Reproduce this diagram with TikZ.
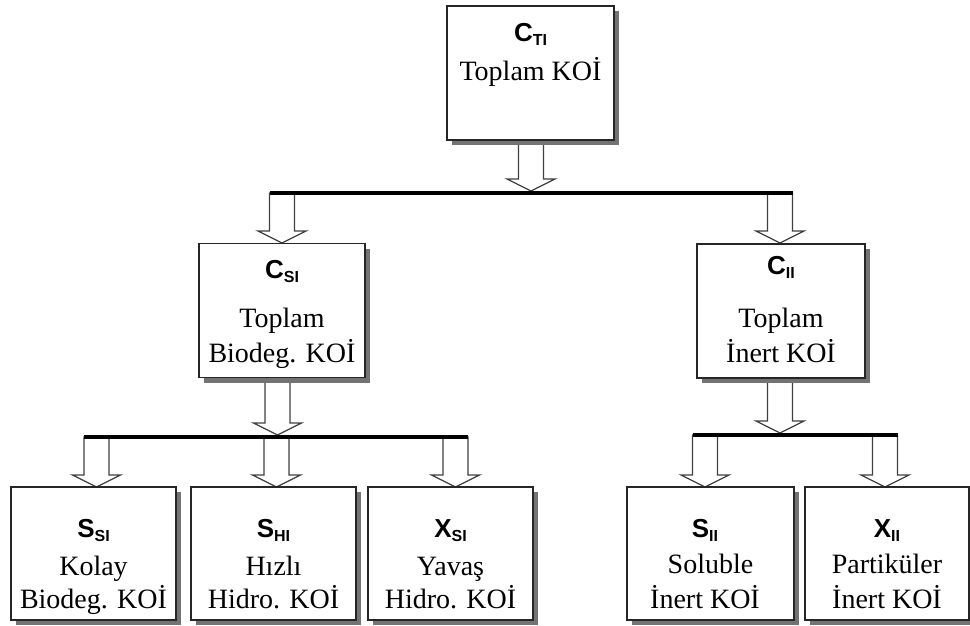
\documentclass[tikz,border=0pt]{standalone}
\usepackage{fontspec}
\setmainfont{Liberation Serif}
\newfontfamily\arialfont{Liberation Sans}
\usetikzlibrary{calc,shadows,backgrounds}
\newcommand{\clbl}[2]{{\arialfont\bfseries\fontsize{26}{26}\selectfont #1\raisebox{-4pt}{\fontsize{16}{16}\selectfont #2}}}
\newcommand{\barrow}[2]{%
  \draw[blockarr] let \p1=(#1), \p2=(#2) in
    (\x2-12.5pt,\y1) -- (\x2-12.5pt,\y2+12pt) -- (\x2-24pt,\y2+12pt) -- (\x2,\y2)
    -- (\x2+24pt,\y2+12pt) -- (\x2+12.5pt,\y2+12pt) -- (\x2+12.5pt,\y1) -- cycle;}
\begin{document}
\begin{tikzpicture}[x=1pt,y=-1pt,
  box/.style={draw=black!85, line width=1.6pt, fill=white, inner sep=0pt,
    minimum width=166pt, minimum height=134pt,
    drop shadow={shadow xshift=5pt, shadow yshift=-5pt, fill=black!55, opacity=1}},
  txt/.style={anchor=base, inner sep=0pt, font=\fontsize{28}{28}\selectfont},
  sym/.style={anchor=base, inner sep=0pt},
  blockarr/.style={draw=black!75, line width=1.3pt, fill=white, line join=miter},
  barline/.style={line width=4pt, black}]
\useasboundingbox (0,0) rectangle (970,626);

% boxes
\node[box, minimum width=167pt] (cti) at (530.5,73) {};
\node[box] (csi) at (282,310.5) {};
\node[box, minimum width=168pt] (cii) at (781,311) {};
\node[box, minimum width=165pt, minimum height=133pt] (ssi) at (93.5,553.5) {};
\node[box, minimum width=165pt, minimum height=133pt] (shi) at (273.5,553.5) {};
\node[box, minimum width=165pt, minimum height=133pt] (xsi) at (450.5,553.5) {};
\node[box, minimum width=167pt, minimum height=133pt] (sii) at (710.5,553.5) {};
\node[box, minimum width=164pt, minimum height=133pt] (xii) at (887,553.5) {};

% texts
\node[sym] (cti1) at (530.5,42) {\clbl{C}{TI}};
\node[txt] (cti2) at (530.5,81) {Toplam KOİ};

\node[sym] (csi1) at (282,278) {\clbl{C}{SI}};
\node[txt] (csi2) at (282,327) {Toplam};
\node[txt] (csi3) at (282,362) {Biodeg. KOİ};

\node[sym] (cii1) at (781,274) {\clbl{C}{II}};
\node[txt] (cii2) at (781,327) {Toplam};
\node[txt] (cii3) at (781,362) {İnert KOİ};

\node[sym] (ssi1) at (93.5,537) {\clbl{S}{SI}};
\node[txt] (ssi2) at (93.5,575) {Kolay};
\node[txt] (ssi3) at (93.5,608) {Biodeg. KOİ};

\node[sym] (shi1) at (273.5,537) {\clbl{S}{HI}};
\node[txt] (shi2) at (273.5,575) {Hızlı};
\node[txt] (shi3) at (273.5,608) {Hidro. KOİ};

\node[sym] (xsi1) at (450.5,537) {\clbl{X}{SI}};
\node[txt] (xsi2) at (450.5,575) {Yavaş};
\node[txt] (xsi3) at (450.5,608) {Hidro. KOİ};

\node[sym] (sii1) at (705,537) {\clbl{S}{II}};
\node[txt] (sii2) at (710.5,573) {Soluble};
\node[txt] (sii3) at (705,608) {İnert KOİ};

\node[sym] (xii1) at (887,537) {\clbl{X}{II}};
\node[txt] (xii2) at (887,573) {Partiküler};
\node[txt] (xii3) at (887,608) {İnert KOİ};

% bar coordinates
\coordinate (topL) at (269.5,193);
\coordinate (topR) at (792.5,193);
\coordinate (topM) at (531,191);
\coordinate (lL) at (84,437);
\coordinate (lR) at (468,437);
\coordinate (lM) at (277.5,435);
\coordinate (rL) at (692.5,435);
\coordinate (rR) at (897.5,435);
\coordinate (rM) at (780,433);
% arrow tips on boxes
\coordinate (tCsi) at (282,243);
\coordinate (tCii) at (780,243);
\coordinate (tSsi) at (96.5,487);
\coordinate (tShi) at (276.5,487);
\coordinate (tXsi) at (455.5,487);
\coordinate (tSii) at (705,487);
\coordinate (tXii) at (885,487);

\begin{pgfonlayer}{background}
\barrow{cti.south}{topM}
\barrow{topL}{tCsi}
\barrow{topL}{tCii}
\barrow{csi.south}{lM}
\barrow{lL}{tSsi}
\barrow{lL}{tShi}
\barrow{lL}{tXsi}
\barrow{cii.south}{rM}
\barrow{rL}{tSii}
\barrow{rL}{tXii}
\end{pgfonlayer}

\draw[barline] (topL) -- (topR);
\draw[barline] (lL) -- (lR);
\draw[barline] (rL) -- (rR);
\end{tikzpicture}
\end{document}
